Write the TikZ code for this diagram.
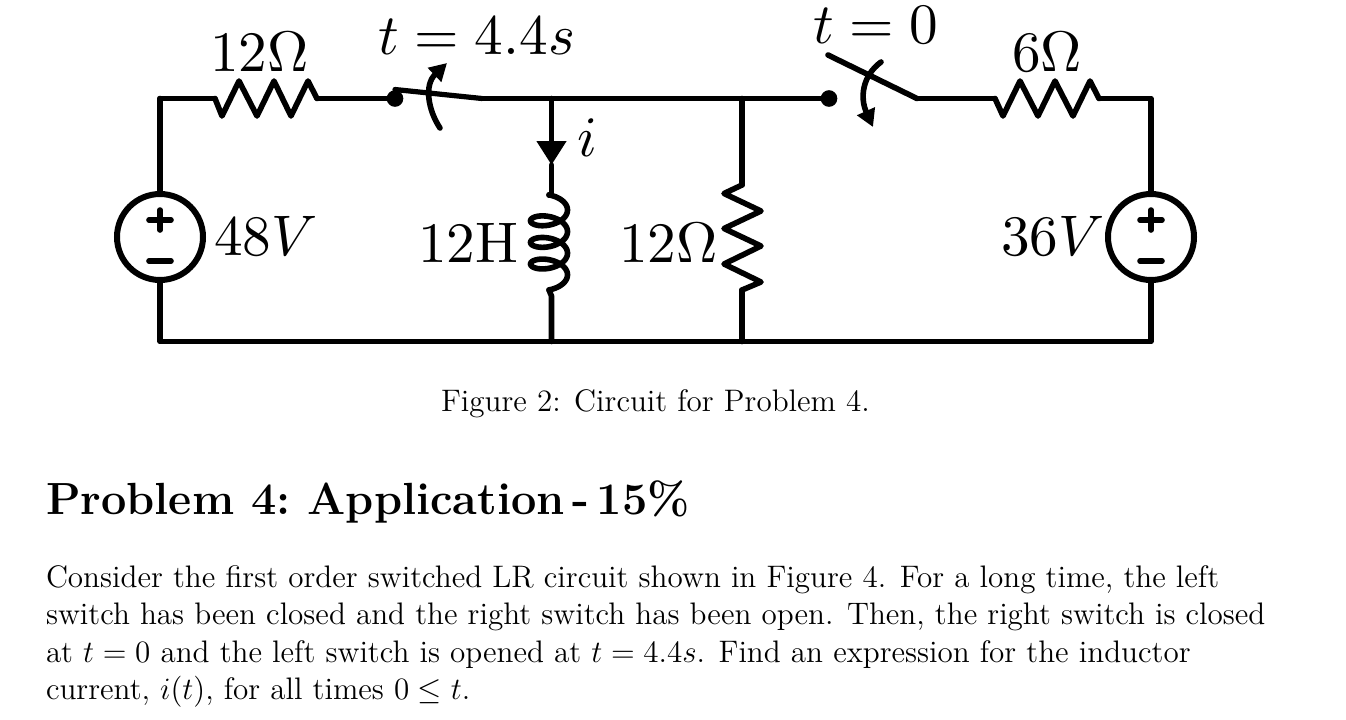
\documentclass[tikz,border=0pt]{standalone}
\usepackage{fix-cm}
\usetikzlibrary{arrows.meta,calc}
\tikzset{
  wire/.style={line width=4.2pt,line cap=round,line join=round},
  thinwire/.style={line width=3.9pt,line cap=round,line join=round},
  source/.style={circle,draw,line width=4.5pt,minimum size=64.5pt,inner sep=0pt,outer sep=0pt,fill=white},
  jdot/.style={circle,fill=black,minimum size=12.5pt,inner sep=0pt,outer sep=0pt},
  biglabel/.style={anchor=base west,inner sep=0pt,outer sep=0pt,transform shape,scale=4.29,font=\fontsize{10}{12}\selectfont},
  bodyline/.style={anchor=base west,inner sep=0pt,outer sep=0pt,transform shape,scale=1.944,font=\fontsize{12}{14.5}\selectfont},
  headline/.style={anchor=base west,inner sep=0pt,outer sep=0pt,transform shape,scale=1.955,font=\fontsize{17.28}{22}\selectfont\bfseries\frenchspacing},
  swarrow/.style={wire,-{Triangle[length=13pt,width=14pt]}},
  curarrow/.style={wire,-{Triangle[length=18pt,width=21.5pt]}}
}
\begin{document}
\begin{tikzpicture}[x=0.75pt,y=-0.75pt]
\useasboundingbox (0,0) rectangle (1346,719);
\fill[white] (0,0) rectangle (1346,719);
% corners and junctions
\coordinate (tl) at (160,98.5);
\coordinate (bl) at (160,341.5);
\coordinate (tr) at (1151,98.5);
\coordinate (br) at (1151,341.5);
\coordinate (tL) at (551.5,98.5);
\coordinate (bL) at (551.5,341.5);
\coordinate (tR) at (742,98.5);
\coordinate (bR) at (742,341.5);
\coordinate (r1a) at (215,98.5);
\coordinate (r1b) at (317,98.5);
\coordinate (r3a) at (995,98.5);
\coordinate (r3b) at (1099,98.5);
\coordinate (r2a) at (742,185);
\coordinate (r2b) at (742,290);
\coordinate (sw1b) at (482,98.5);
\coordinate (sw2b) at (917,98.5);
\coordinate (itip) at (551.5,165);
\coordinate (ca) at (549,195);
\coordinate (cb) at (549,290);
\node[source] (vs1) at (160,237) {};
\node[source] (vs2) at (1151,237) {};
\node[jdot] (d1) at (395,98.5) {};
\node[jdot] (d2) at (829,98.5) {};
% wires
\draw[wire] (tl) -- (vs1.north);
\draw[wire] (vs1.south) -- (bl) -- (br) -- (vs2.south);
\draw[wire] (vs2.north) -- (tr) -- (r3b);
\draw[wire] (tl) -- (r1a);
\draw[wire] (r1b) -- (d1.center);
\draw[wire] (sw1b) -- (d2.center);
\draw[wire] (sw2b) -- (r3a);
\draw[wire] (tR) -- (r2a);
\draw[wire] (r2b) -- (bR);
\draw[wire] (cb) -- (551.5,296) -- (bL);
% resistors
\draw[wire] (r1a) -- (222,116) -- (239,81) -- (257,116) -- (274,81) -- (291,116) -- (308,81) -- (r1b);
\draw[wire] (r3a) -- (1003,116) -- (1020,81) -- (1038,116) -- (1055,81) -- (1073,116) -- (1090,81) -- (r3b);
\draw[wire] (r2a) -- (724,193.5) -- (761,211) -- (724,228.5) -- (761,246) -- (724,264) -- (761,282) -- (r2b);
% sources' signs
\draw[wire] ($(vs1.center)+(-11,-17)$) -- ++(22,0);
\draw[wire] ($(vs1.center)+(0,-27)$) -- ++(0,20);
\draw[wire] ($(vs1.center)+(-11,24)$) -- ++(22,0);
\draw[wire] ($(vs2.center)+(-11,-17)$) -- ++(22,0);
\draw[wire] ($(vs2.center)+(0,-27)$) -- ++(0,20);
\draw[wire] ($(vs2.center)+(-11,24)$) -- ++(22,0);
% switches
\draw[thinwire] (395,89.5) -- (sw1b);
\draw[wire] (828,55) -- (sw2b);
\draw[swarrow] (440,128) .. controls (428,110) and (424,85) .. (447,63);
\draw[swarrow] (881,62) .. controls (862,76) and (860,98) .. (873,127);
% inductor branch
\draw[curarrow] (tL) -- (itip);
\draw[wire] (itip) -- (551.5,195) -- (ca);
\draw[line width=4.2pt,line join=round,line cap=round] plot[domain=-90:1170,samples=240] ({549+18.5*cos(\x)},{210+0.06*\x+9.7*sin(\x)});
% labels
\node[biglabel] (l1) at (210,71) {$12\Omega$};
\node[biglabel] (l2) at (378,54) {$t=4.4s$};
\node[biglabel] (l3) at (813,43) {$t=0$};
\node[biglabel] (l4) at (1012,71) {$6\Omega$};
\node[biglabel] (l5) at (214,255) {$48V$};
\node[biglabel] (l6) at (1001,255) {$36V$};
\node[biglabel] (l7) at (418,262) {12H};
\node[biglabel] (l8) at (619,262) {$12\Omega$};
\node[biglabel] (l9) at (577,156) {$i$};
\node[bodyline] (cap) at (441,411) {Figure 2: Circuit for Problem 4.};
\node[headline] (head) at (46,514) {Problem 4: Application\,-\,15\%};
\node[bodyline] (b1) at (46,587) {Consider the first order switched LR circuit shown in Figure 4. For a long time, the left};
\node[bodyline] (b2) at (46,624) {switch has been closed and the right switch has been open. Then, the right switch is closed};
\node[bodyline] (b3) at (46,662) {at $t=0$ and the left switch is opened at $t=4.4s$. Find an expression for the inductor};
\node[bodyline] (b4) at (46,699) {current, $i(t)$, for all times $0\leq t$.};
\end{tikzpicture}
\end{document}
